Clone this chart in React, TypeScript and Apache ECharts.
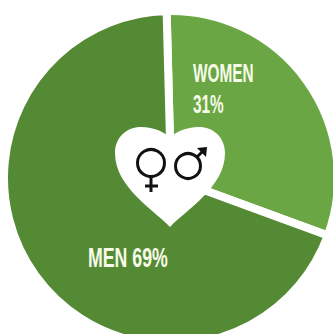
import React, { useEffect, useRef } from "react";
import * as echarts from "echarts";

const categories = ["WOMEN", "MEN"];
const shares = [31, 69];
const sliceColors = ["#6aa744", "#558a35"];

const HEART =
  "M55 100 C38 82 0 60 0 26 C0 10 12 0 26 0 C39 0 50 5 55 11 C60 5 71 0 84 0 C98 0 110 10 110 26 C110 60 72 82 55 100 Z";
echarts.graphic.registerShape("heart", echarts.graphic.extendPath(HEART, {}) as any);

export default function App() {
  const ref = useRef<HTMLDivElement>(null);
  useEffect(() => {
    const chart = echarts.init(ref.current!, undefined, { renderer: "svg" });
    const ink = { stroke: "#111", lineWidth: 3, fill: "none" };
    const captionFont = {
      fill: "#f6fbe8",
      fontFamily: "'Liberation Sans', sans-serif",
      fontWeight: "bold" as const,
      fontSize: 24,
      lineHeight: 29,
    };
    const overlay = [
      { type: "heart", x: 115, y: 127, z: 10, style: { fill: "#fff" } },
      // Venus symbol
      { type: "circle", z: 11, shape: { cx: 151, cy: 163, r: 13.5 }, style: ink },
      { type: "line", z: 11, shape: { x1: 151, y1: 176, x2: 151, y2: 192 }, style: ink },
      { type: "line", z: 11, shape: { x1: 145, y1: 186, x2: 158, y2: 186 }, style: ink },
      // Mars symbol
      { type: "circle", z: 11, shape: { cx: 188, cy: 166, r: 12.5 }, style: ink },
      { type: "line", z: 11, shape: { x1: 197, y1: 157, x2: 205, y2: 149 }, style: ink },
      {
        type: "polygon",
        z: 11,
        shape: { points: [[197, 148], [207, 147], [206, 157]] },
        style: { fill: "#111" },
      },
      // Condensed captions: no narrow face is available, so the text is squeezed
      {
        type: "text",
        z: 11,
        x: 193,
        y: 58,
        scaleX: 0.64,
        scaleY: 1.08,
        style: { ...captionFont, text: `${categories[0]}\n${shares[0]}%` },
      },
      {
        type: "text",
        z: 11,
        x: 88,
        y: 241,
        scaleX: 0.74,
        scaleY: 1.12,
        style: { ...captionFont, text: `${categories[1]} ${shares[1]}%` },
      },
    ];
    chart.setOption({
      animation: false,
      series: [
        {
          type: "pie",
          center: [171, 178],
          radius: [0, 167],
          startAngle: 91.5,
          clockwise: true,
          silent: true,
          itemStyle: { borderColor: "#fff", borderWidth: 8 },
          labelLine: { show: false },
          label: { show: false },
          data: categories.map((name, i) => ({
            name,
            value: shares[i],
            itemStyle: { color: sliceColors[i] },
          })),
        },
      ],
      graphic: { elements: overlay },
    });
    return () => chart.dispose();
  }, []);
  return (
    <div
      ref={ref}
      style={{ position: "fixed", left: 0, top: 0, width: 333, height: 334, background: "#fff" }}
    />
  );
}
